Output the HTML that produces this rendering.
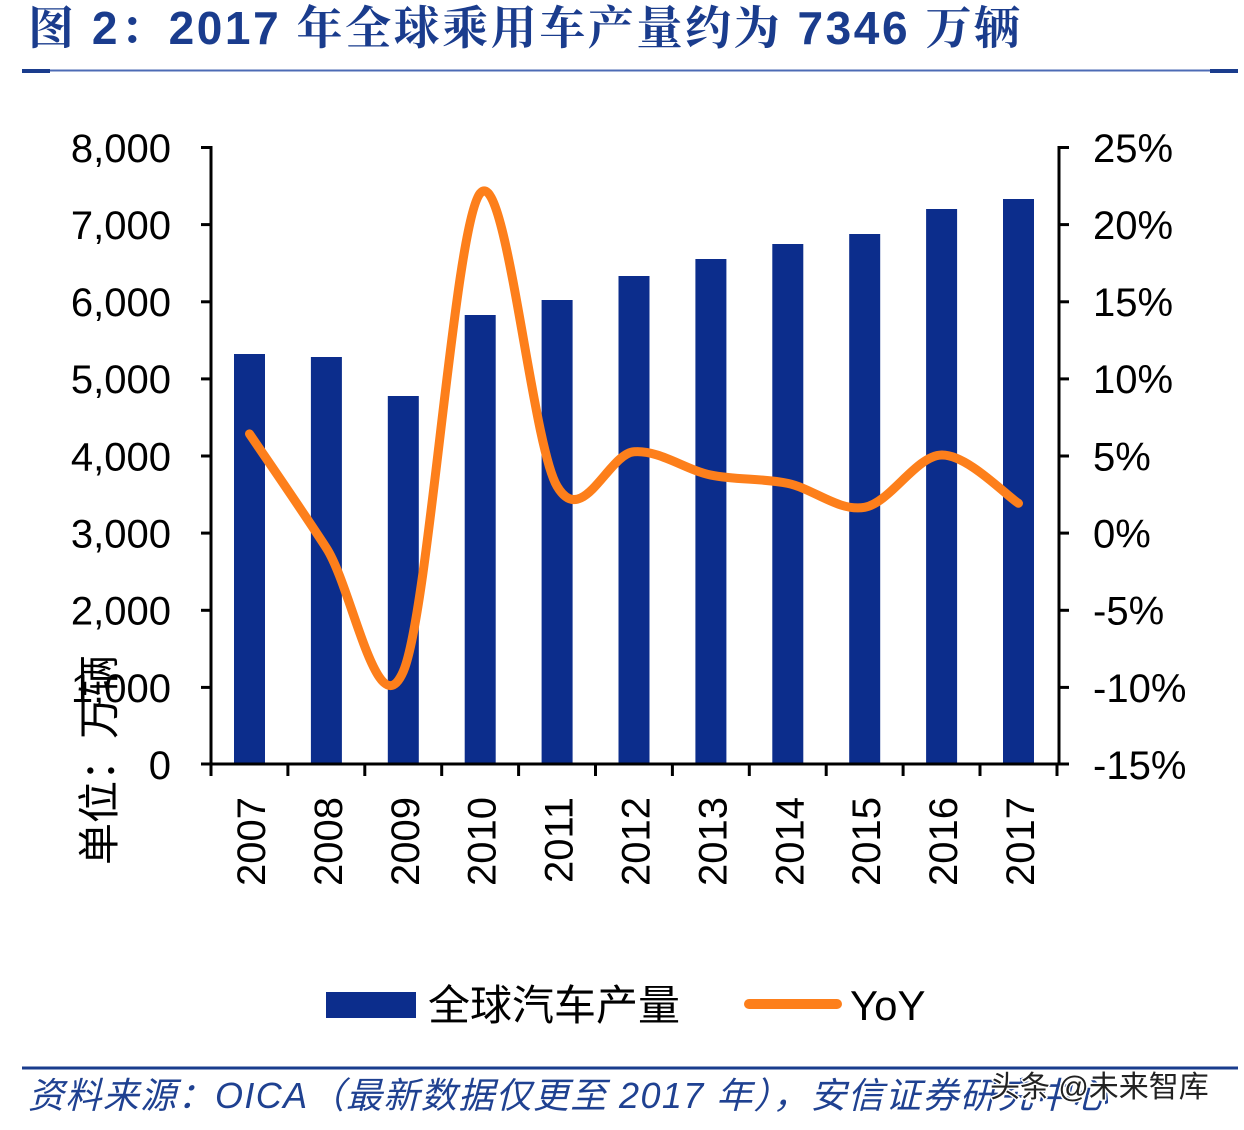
<!DOCTYPE html>
<html>
<head>
<meta charset="utf-8">
<style>
  html, body { margin: 0; padding: 0; background: #fff; }
  svg { display: block; }
  .num { font-family: "Liberation Sans", "Noto Sans CJK SC", sans-serif; font-size: 40px; fill: #000; }
</style>
</head>
<body>
<svg width="1244" height="1130" viewBox="0 0 1244 1130" xmlns="http://www.w3.org/2000/svg">
  <rect x="0" y="0" width="1244" height="1130" fill="#fff"/>

  <!-- Title -->
  <text x="28" y="44" textLength="992" lengthAdjust="spacing" font-family="'Liberation Sans', 'Noto Serif CJK SC', serif" font-weight="bold" font-size="46" fill="#1a3c8d">图 2：2017 年全球乘用车产量约为 7346 万辆</text>
  <!-- Title underline -->
  <rect x="22" y="69.5" width="1216" height="2" fill="#4d6bb5"/>
  <rect x="22" y="69" width="28" height="4" fill="#1a3c8d"/>
  <rect x="1210" y="69" width="28" height="4" fill="#1a3c8d"/>

  <!-- Bars -->
  <g fill="#0c2d8c">
    <rect x="234" y="354" width="31" height="410"/>
    <rect x="310.9" y="357" width="31" height="407"/>
    <rect x="387.8" y="396" width="31" height="368"/>
    <rect x="464.7" y="315" width="31" height="449"/>
    <rect x="541.6" y="300" width="31" height="464"/>
    <rect x="618.5" y="276" width="31" height="488"/>
    <rect x="695.4" y="259" width="31" height="505"/>
    <rect x="772.3" y="244" width="31" height="520"/>
    <rect x="849.2" y="234" width="31" height="530"/>
    <rect x="926.1" y="209" width="31" height="555"/>
    <rect x="1003" y="199" width="31" height="565"/>
  </g>

  <!-- Axes -->
  <g stroke="#000" stroke-width="3" fill="none">
    <line x1="211" y1="146" x2="211" y2="765"/>
    <line x1="1059" y1="146" x2="1059" y2="765"/>
    <line x1="201" y1="764" x2="1069" y2="764"/>
    <!-- left ticks -->
    <line x1="201" y1="147.5" x2="211" y2="147.5"/>
    <line x1="201" y1="224.6" x2="211" y2="224.6"/>
    <line x1="201" y1="301.8" x2="211" y2="301.8"/>
    <line x1="201" y1="378.9" x2="211" y2="378.9"/>
    <line x1="201" y1="456" x2="211" y2="456"/>
    <line x1="201" y1="533.1" x2="211" y2="533.1"/>
    <line x1="201" y1="610.3" x2="211" y2="610.3"/>
    <line x1="201" y1="687.4" x2="211" y2="687.4"/>
    <!-- right ticks -->
    <line x1="1059" y1="147.5" x2="1069" y2="147.5"/>
    <line x1="1059" y1="224.6" x2="1069" y2="224.6"/>
    <line x1="1059" y1="301.8" x2="1069" y2="301.8"/>
    <line x1="1059" y1="378.9" x2="1069" y2="378.9"/>
    <line x1="1059" y1="456" x2="1069" y2="456"/>
    <line x1="1059" y1="533.1" x2="1069" y2="533.1"/>
    <line x1="1059" y1="610.3" x2="1069" y2="610.3"/>
    <line x1="1059" y1="687.4" x2="1069" y2="687.4"/>
    <!-- bottom ticks -->
    <line x1="211" y1="764" x2="211" y2="776"/>
    <line x1="287.9" y1="764" x2="287.9" y2="776"/>
    <line x1="364.8" y1="764" x2="364.8" y2="776"/>
    <line x1="441.7" y1="764" x2="441.7" y2="776"/>
    <line x1="518.6" y1="764" x2="518.6" y2="776"/>
    <line x1="595.5" y1="764" x2="595.5" y2="776"/>
    <line x1="672.4" y1="764" x2="672.4" y2="776"/>
    <line x1="749.3" y1="764" x2="749.3" y2="776"/>
    <line x1="826.2" y1="764" x2="826.2" y2="776"/>
    <line x1="903.1" y1="764" x2="903.1" y2="776"/>
    <line x1="980" y1="764" x2="980" y2="776"/>
    <line x1="1057" y1="764" x2="1057" y2="776"/>
  </g>

  <!-- Left tick labels -->
  <g class="num" text-anchor="end">
    <text x="171" y="162">8,000</text>
    <text x="171" y="239">7,000</text>
    <text x="171" y="316">6,000</text>
    <text x="171" y="393">5,000</text>
    <text x="171" y="470.5">4,000</text>
    <text x="171" y="547.5">3,000</text>
    <text x="171" y="624.5">2,000</text>
    <text x="171" y="702">1,000</text>
    <text x="171" y="779">0</text>
  </g>
  <!-- Right tick labels -->
  <g class="num">
    <text x="1093" y="162">25%</text>
    <text x="1093" y="239">20%</text>
    <text x="1093" y="316">15%</text>
    <text x="1093" y="393">10%</text>
    <text x="1093" y="470.5">5%</text>
    <text x="1093" y="547.5">0%</text>
    <text x="1093" y="624.5">-5%</text>
    <text x="1093" y="702">-10%</text>
    <text x="1093" y="779">-15%</text>
  </g>

  <!-- Year labels (rotated) -->
  <g class="num" text-anchor="end">
    <text transform="translate(265,797) rotate(-90)">2007</text>
    <text transform="translate(341.9,797) rotate(-90)">2008</text>
    <text transform="translate(418.8,797) rotate(-90)">2009</text>
    <text transform="translate(495.7,797) rotate(-90)">2010</text>
    <text transform="translate(572.6,797) rotate(-90)">2011</text>
    <text transform="translate(649.5,797) rotate(-90)">2012</text>
    <text transform="translate(726.4,797) rotate(-90)">2013</text>
    <text transform="translate(803.3,797) rotate(-90)">2014</text>
    <text transform="translate(880.2,797) rotate(-90)">2015</text>
    <text transform="translate(957.1,797) rotate(-90)">2016</text>
    <text transform="translate(1034,797) rotate(-90)">2017</text>
  </g>

  <!-- YoY line -->
  <path d="M249.5,433.88
           C262.32,452.91 300.77,508.44 326.4,548.03
           C352.03,587.62 377.67,730.56 403.3,671.43
           C428.93,612.30 454.57,224.10 480.2,193.25
           C505.83,162.40 531.47,443.24 557.1,486.33
           C582.73,529.42 608.37,453.65 634,451.77
           C659.63,449.89 685.27,469.80 710.9,475.07
           C736.53,480.34 762.17,478.02 787.8,483.39
           C813.43,488.76 839.07,512.03 864.7,507.30
           C890.33,502.57 915.97,455.68 941.6,455.01
           C967.23,454.34 1005.68,495.24 1018.5,503.29"
        fill="none" stroke="#fd7f1b" stroke-width="9" stroke-linecap="round" stroke-linejoin="round"/>

  <!-- Y-axis unit label -->
  <text transform="translate(114,655) rotate(-90)" text-anchor="end" font-family="'Liberation Sans', 'Noto Sans CJK SC', sans-serif" font-size="42" fill="#000">单位：万辆</text>

  <!-- Legend -->
  <rect x="326" y="992" width="90" height="26" fill="#0c2d8c"/>
  <text x="428" y="1020" font-family="'Liberation Sans', 'Noto Sans CJK SC', sans-serif" font-size="42" fill="#000">全球汽车产量</text>
  <line x1="749" y1="1004" x2="837" y2="1004" stroke="#fd7f1b" stroke-width="10" stroke-linecap="round"/>
  <text x="850" y="1020" font-family="'Liberation Sans', sans-serif" font-size="42" fill="#000">YoY</text>

  <!-- Source -->
  <rect x="22" y="1066.5" width="1216" height="3" fill="#1a3c8d"/>
  <text x="28" y="1108" textLength="1080" lengthAdjust="spacing" font-family="'Liberation Sans', 'Noto Sans CJK SC', sans-serif" font-style="italic" font-size="36" fill="#1f4191">资料来源：OICA（最新数据仅更至 2017 年），安信证券研究中心</text>

  <!-- Watermark -->
  <text x="990" y="1097" font-family="'Liberation Sans', 'Noto Sans CJK SC', sans-serif" font-size="30" fill="#222" stroke="#fff" stroke-width="3" paint-order="stroke" stroke-linejoin="round">头条 @未来智库</text>
</svg>
</body>
</html>
